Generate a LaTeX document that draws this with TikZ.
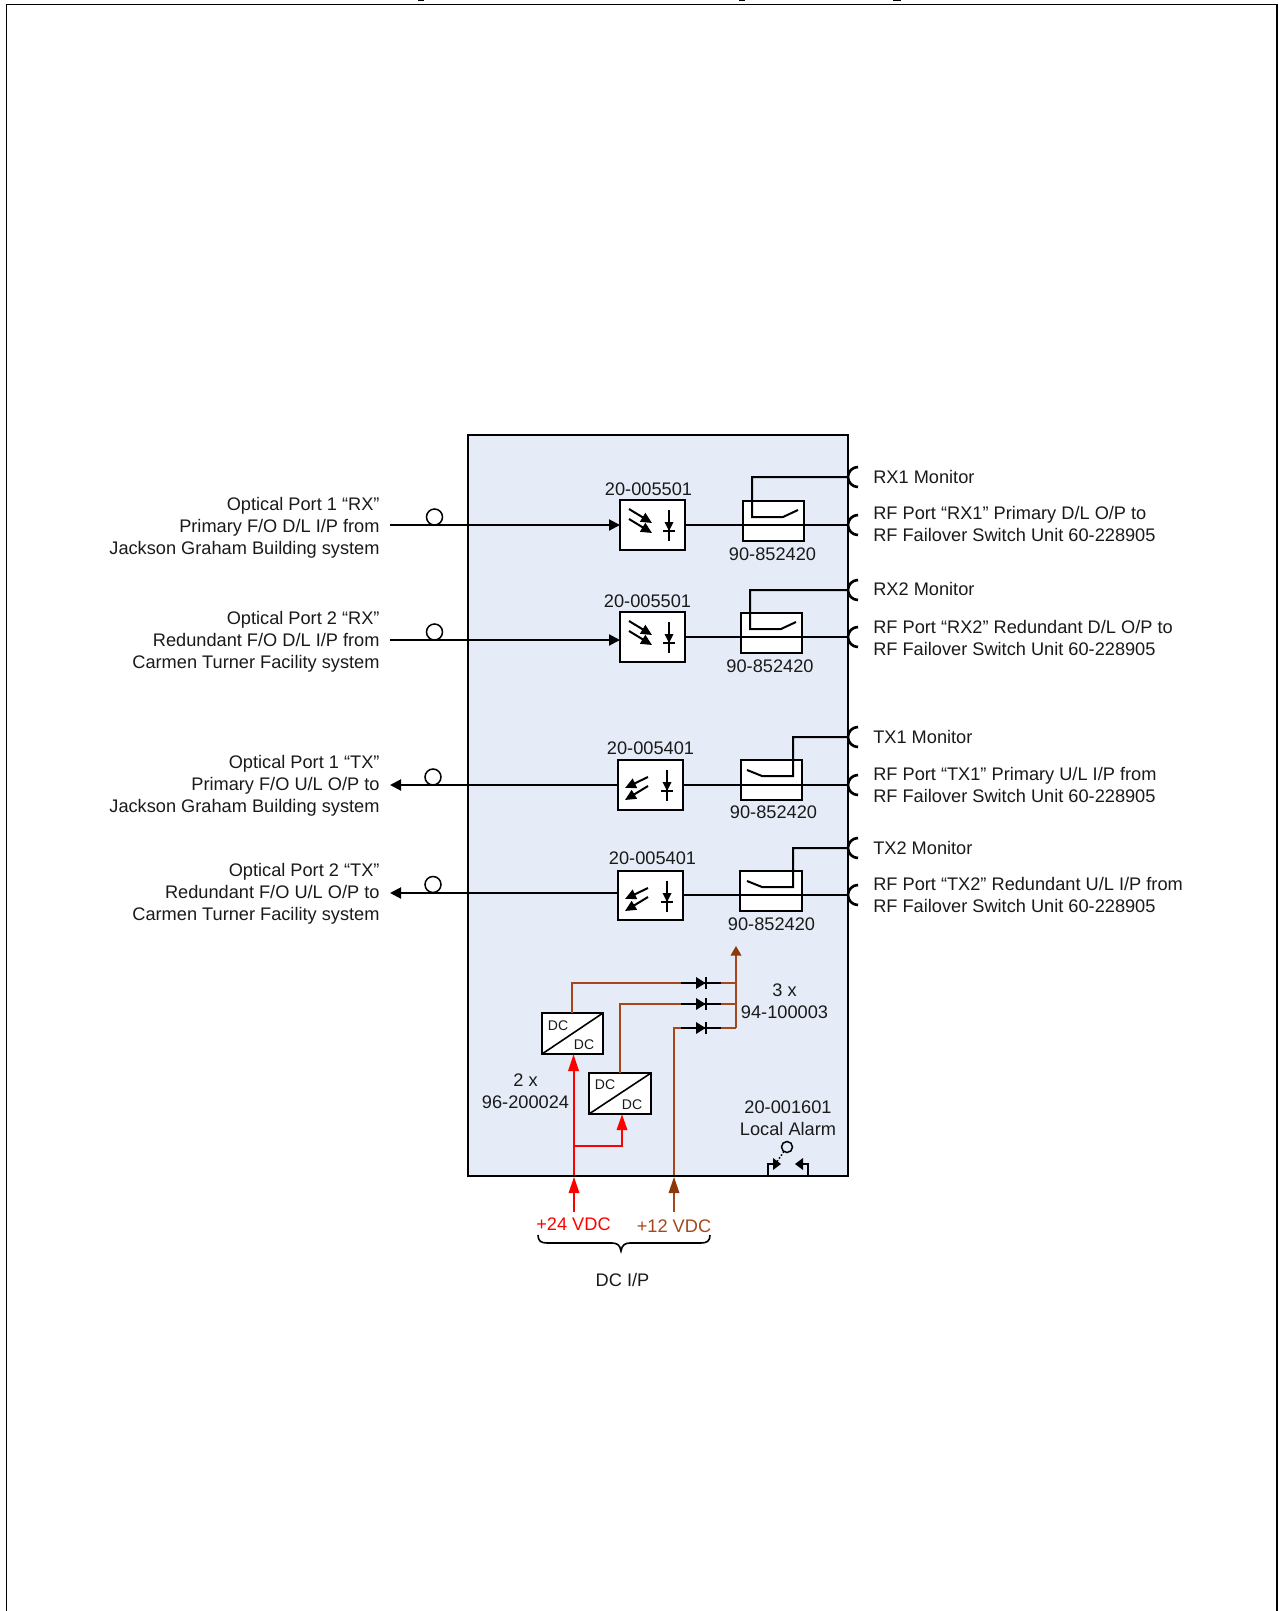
\documentclass[tikz,border=0pt]{standalone}
\usepackage{fontspec}
\setmainfont{Liberation Sans}
\usetikzlibrary{arrows.meta}
\definecolor{panel}{HTML}{E6ECF7}
\definecolor{brn}{HTML}{A5471A}
\definecolor{brnhead}{HTML}{8C3A0C}
\definecolor{txt}{HTML}{1A1A1A}
\tikzset{
 x=1pt,y=-1pt,
 every node/.style={outer sep=0pt},
 lbl/.style={font=\fontsize{18.2}{22}\selectfont,text=txt,inner sep=0pt,align=center},
 lft/.style={lbl,anchor=east,align=right},
 rgt/.style={lbl,anchor=west,align=left},
 wire/.style={line width=2pt,draw=black},
 whitebox/.style={draw=black,line width=2pt,fill=white},
 head/.style={-{Stealth[length=11pt,width=11pt,inset=0pt]},line width=2pt},
 ahead/.style={wire,-{Stealth[length=11pt,width=10pt,inset=0pt]}},
 redw/.style={line width=2pt,draw=red},
 brnw/.style={line width=2pt,draw=brn},
 dclbl/.style={font=\fontsize{14}{16}\selectfont,text=txt,inner sep=0pt}
}
\newcommand{\portarc}[1]{\draw[line width=2.6pt,black] (858,#1-10) arc[start angle=90,end angle=270,radius=10pt];}
\newcommand{\rxicon}[2]{%
 \draw[ahead] (#1+9,#2+9) -- (#1+32,#2+23);
 \draw[ahead] (#1+9,#2+19) -- (#1+32,#2+33);
 \diodev{#1}{#2}}
\newcommand{\txicon}[2]{%
 \draw[ahead] (#1+30,#2+17) -- (#1+7,#2+28);
 \draw[ahead] (#1+30,#2+26) -- (#1+7,#2+40);
 \diodev{#1}{#2}}
\newcommand{\diodev}[2]{%
 \draw[wire] (#1+49,#2+10) -- (#1+49,#2+41);
 \draw[wire] (#1+43,#2+31) -- (#1+55,#2+31);
 \fill[black] (#1+44.5,#2+22) -- (#1+53.5,#2+22) -- (#1+49,#2+31) -- cycle;}
\newcommand{\diodeh}[1]{%
 \draw[line width=2pt,black] (681,#1) -- (721,#1);
 \fill[black] (696,#1-6) -- (705.5,#1) -- (696,#1+6) -- cycle;
 \draw[line width=1.6pt,black] (706,#1-6) -- (706,#1+6);}
\begin{document}
\begin{tikzpicture}
\useasboundingbox (0,0) rectangle (1278,1611);
\fill[white] (0,0) rectangle (1278,1611);
% clipped title descenders
\fill[black] (418,0) rectangle (424,1.5);
\fill[black] (739,0) rectangle (745,1.5);
\fill[black] (893,0) rectangle (901,1.5);
% outer frame
\coordinate (fa) at (6.5,1611); \coordinate (fb) at (6.5,4.5); \coordinate (fc) at (1277,4.5); \coordinate (fd) at (1277,1611);
\draw[line width=1.5pt,black] (fa) -- (fb) -- (fc) -- (fd);
% panel
\node[draw=black,line width=2pt,fill=panel,minimum width=380pt,minimum height=741pt,inner sep=0pt,anchor=north west] (panel) at (467.5,434.5) {};

\coordinate (p1m) at (848,477); \coordinate (p1o) at (848,525);
\coordinate (p2m) at (848,590); \coordinate (p2o) at (848,637);
\coordinate (p3m) at (848,737); \coordinate (p3o) at (848,785);
\coordinate (p4m) at (848,848); \coordinate (p4o) at (848,895);

% opto boxes
\node[whitebox,minimum width=65pt,minimum height=50pt,inner sep=0pt,anchor=north west] (o1) at (620,500) {};
\node[whitebox,minimum width=65pt,minimum height=50pt,inner sep=0pt,anchor=north west] (o2) at (620,612) {};
\node[whitebox,minimum width=65pt,minimum height=50pt,inner sep=0pt,anchor=north west] (o3) at (618,760) {};
\node[whitebox,minimum width=65pt,minimum height=49pt,inner sep=0pt,anchor=north west] (o4) at (618,871) {};
\rxicon{620}{500}\rxicon{620}{612}\txicon{618}{760}\txicon{618}{871}
% relay boxes
\node[whitebox,minimum width=61pt,minimum height=40pt,inner sep=0pt,anchor=north west] (r1) at (743,501) {};
\node[whitebox,minimum width=61pt,minimum height=40pt,inner sep=0pt,anchor=north west] (r2) at (741,613) {};
\node[whitebox,minimum width=61pt,minimum height=40pt,inner sep=0pt,anchor=north west] (r3) at (741,760) {};
\node[whitebox,minimum width=62pt,minimum height=40pt,inner sep=0pt,anchor=north west] (r4) at (740,871) {};
% through lines
\draw[wire] (o1.east|-p1o) -- (p1o);
\draw[wire] (o2.east|-p2o) -- (p2o);
\draw[wire] (o3.east|-p3o) -- (p3o);
\draw[wire] (o4.east|-p4o) -- (p4o);
% monitors
\draw[wire] (p1m) -- (752,477) -- (752,517) -- (783,517) -- (798,510);
\draw[wire] (p2m) -- (750,590) -- (750,629) -- (781,629) -- (796,622);
\draw[wire] (p3m) -- (793,737) -- (793,776) -- (762,776) -- (747,770);
\draw[wire] (p4m) -- (793,848) -- (793,887) -- (762,887) -- (747,881);
% port arcs
\portarc{477}\portarc{525}\portarc{590}\portarc{637}\portarc{737}\portarc{785}\portarc{848}\portarc{895}
% left lines
\coordinate (l1) at (390,525); \coordinate (l2) at (390,640); \coordinate (l3) at (390,785); \coordinate (l4) at (390,893);
\draw[wire,head] (l1) -- (o1.west|-l1);
\draw[wire,head] (l2) -- (o2.west|-l2);
\draw[wire,head] (o3.west|-l3) -- (l3);
\draw[wire,head] (o4.west|-l4) -- (l4);
\node[draw=black,line width=1.5pt,circle,minimum size=16pt,inner sep=0pt] (c1) at (434.5,517) {};
\node[draw=black,line width=1.5pt,circle,minimum size=16pt,inner sep=0pt] (c2) at (434.5,632) {};
\node[draw=black,line width=1.5pt,circle,minimum size=16pt,inner sep=0pt] (c3) at (433,777) {};
\node[draw=black,line width=1.5pt,circle,minimum size=16pt,inner sep=0pt] (c4) at (433,884.5) {};
% labels
\node[lbl] (t1) at (648.5,489) {20-005501};
\node[lbl] (t2) at (647.5,601.5) {20-005501};
\node[lbl] (t3) at (650.5,748) {20-005401};
\node[lbl] (t4) at (652.5,858.5) {20-005401};
\node[lbl] (u1) at (772.5,554.5) {90-852420};
\node[lbl] (u2) at (770,666) {90-852420};
\node[lbl] (u3) at (773.5,812.5) {90-852420};
\node[lbl] (u4) at (771.5,924) {90-852420};
\node[lft] (a1) at (379.5,527.5) {Optical Port 1 “RX”\\Primary F/O D/L I/P from\\Jackson Graham Building system};
\node[lft] (a2) at (379.5,641.5) {Optical Port 2 “RX”\\Redundant F/O D/L I/P from\\Carmen Turner Facility system};
\node[lft] (a3) at (379.5,786) {Optical Port 1 “TX”\\Primary F/O U/L O/P to\\Jackson Graham Building system};
\node[lft] (a4) at (379.5,894) {Optical Port 2 “TX”\\Redundant F/O U/L O/P to\\Carmen Turner Facility system};
\node[rgt] (m1) at (873.3,476.5) {RX1 Monitor};
\node[rgt] (m2) at (873.3,588.5) {RX2 Monitor};
\node[rgt] (m3) at (873.3,736.5) {TX1 Monitor};
\node[rgt] (m4) at (873.3,847.5) {TX2 Monitor};
\node[rgt] (b1) at (873.3,523.5) {RF Port “RX1” Primary D/L O/P to\\RF Failover Switch Unit 60-228905};
\node[rgt] (b2) at (873.3,637.5) {RF Port “RX2” Redundant D/L O/P to\\RF Failover Switch Unit 60-228905};
\node[rgt] (b3) at (873.3,784.5) {RF Port “TX1” Primary U/L I/P from\\RF Failover Switch Unit 60-228905};
\node[rgt] (b4) at (873.3,894.5) {RF Port “TX2” Redundant U/L I/P from\\RF Failover Switch Unit 60-228905};
% DC
\node[whitebox,minimum width=61pt,minimum height=41pt,inner sep=0pt,anchor=north west] (d1) at (542,1013) {};
\node[whitebox,minimum width=62pt,minimum height=41pt,inner sep=0pt,anchor=north west] (d2) at (589,1073) {};
\draw[line width=1.6pt] (d1.south west) -- (d1.north east);
\draw[line width=1.6pt] (d2.south west) -- (d2.north east);
\node[dclbl] at (558,1025.5) {DC};
\node[dclbl] at (584,1044.5) {DC};
\node[dclbl] at (605,1085) {DC};
\node[dclbl] at (632,1104.5) {DC};
% brown
\coordinate (jb) at (736,1028); \coordinate (jt) at (736,946);
\coordinate (in12) at (674,1175); \coordinate (in24) at (573.5,1175);
\draw[brnw] (572,1013) -- (572,983) -- (736,983);
\draw[brnw] (620,1073) -- (620,1004) -- (736,1004);
\draw[brnw] (in12) -- (674,1028) -- (jb);
\draw[brnw] (jb) -- (736,955);
\fill[brnhead] (jt) -- (741.5,955.5) -- (730.5,955.5) -- cycle;
\diodeh{983}\diodeh{1004}\diodeh{1028}
% red
\draw[redw] (in24) -- (573.5,1065);
\fill[red] (573.5,1054.5) -- (579,1071) -- (568,1071) -- cycle;
\draw[redw] (573.5,1146) -- (622,1146) -- (622,1125);
\fill[red] (622,1114.5) -- (627.5,1130) -- (616.5,1130) -- cycle;
% DC inputs
\coordinate (f24) at (574,1212); \coordinate (f12) at (674,1212);
\draw[redw] (f24) -- (574,1190);
\fill[red] (574,1177) -- (579.5,1193) -- (568.5,1193) -- cycle;
\draw[brnw] (f12) -- (674,1190);
\fill[brnhead] (674,1177) -- (679.5,1193) -- (668.5,1193) -- cycle;
\node[lbl,text=red] (v24) at (573.5,1224.5) {+24 VDC};
\node[lbl,text=brn] (v12) at (674,1226) {+12 VDC};
\draw[line width=1.6pt] (538,1235) .. controls (538,1241) and (541,1243) .. (547,1243) -- (612,1243) .. controls (617,1243) and (620,1245) .. (621,1251) .. controls (622,1245) and (625,1243) .. (630,1243) -- (701,1243) .. controls (707,1243) and (710,1241) .. (710,1235);
\node[lbl] (dcip) at (622.5,1280) {DC I/P};
\node[lbl] (n3x) at (784.5,1001.5) {3 x\\94-100003};
\node[lbl] (n2x) at (525.5,1091.5) {2 x\\96-200024};
\node[lbl] (alm) at (788,1118) {20-001601\\Local Alarm};
% alarm symbol
\node[draw=black,line width=1.5pt,circle,minimum size=11pt,inner sep=0pt] (ac) at (787,1147) {};
\draw[line width=1.5pt,dotted] (ac) -- (776,1163);
\draw[line width=1.5pt] (768,1175) -- (768,1164) -- (774,1164);
\fill (773,1158) -- (781,1164) -- (773,1170) -- cycle;
\draw[line width=1.5pt] (808,1175) -- (808,1164) -- (802,1164);
\fill (803,1158) -- (795,1164) -- (803,1170) -- cycle;
\end{tikzpicture}
\end{document}
